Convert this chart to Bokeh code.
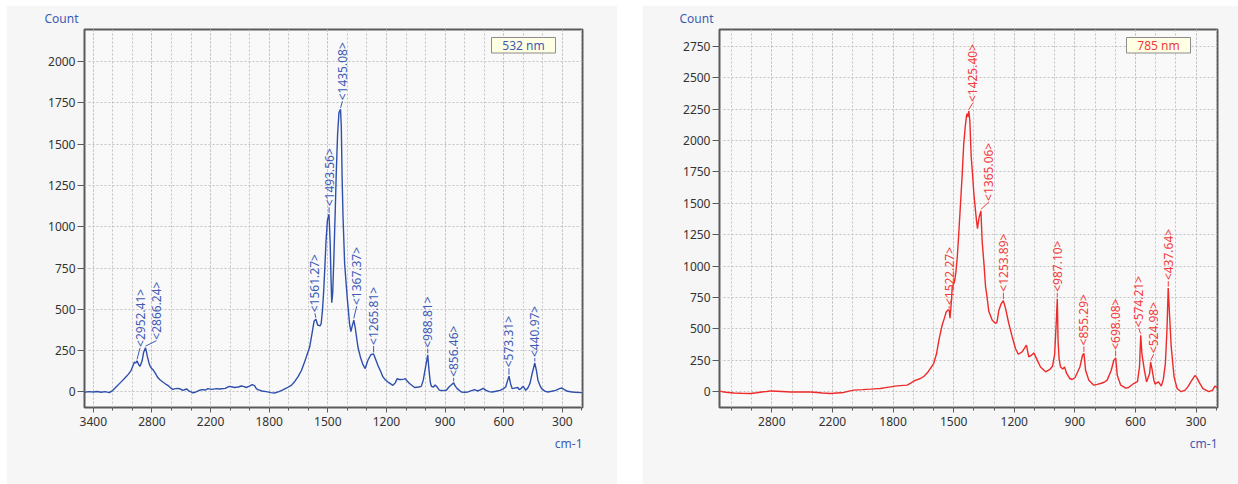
import numpy as np
from bokeh.plotting import figure
from bokeh.models import FixedTicker, Title, Spacer
from bokeh.layouts import row, column
from bokeh.embed import file_html
from bokeh.resources import INLINE
from bokeh.core.properties import value

# ---------------- data ----------------
AXIS_WN = [3400, 2800, 2200, 1800, 1500, 1200, 900, 600, 300]
AXIS_LABELS = ["3400", "2800", "2200", "1800", "1500", "1200", "900", "600", "300"]

LEFT_YTICKS = [0, 250, 500, 750, 1000, 1250, 1500, 1750, 2000]
RIGHT_YTICKS = [0, 250, 500, 750, 1000, 1250, 1500, 1750, 2000, 2250, 2500, 2750]

# 532 nm spectrum (Raman shift cm-1, counts)
L_WN = [3490, 3450, 3400, 3360, 3320, 3280, 3235, 3200, 3167, 3120, 3081, 3040, 3013, 2990,
        2979, 2966, 2952, 2935, 2921, 2900, 2885, 2866, 2855, 2846, 2830, 2818, 2800, 2784,
        2760, 2740, 2715, 2688, 2660, 2638, 2610, 2586, 2560, 2536, 2510, 2484, 2460, 2443,
        2420, 2400, 2380, 2350, 2314, 2280, 2250, 2228, 2190, 2160, 2140, 2100, 2072, 2050,
        2036, 2010, 1991, 1970, 1957, 1935, 1916, 1900, 1888, 1877, 1850, 1820, 1790, 1773,
        1750, 1730, 1710, 1687, 1670, 1653, 1635, 1619, 1605, 1593, 1581, 1570, 1561, 1552,
        1540, 1534, 1527, 1521, 1515, 1509, 1502, 1494, 1488, 1484, 1480, 1475, 1469, 1462,
        1457, 1450, 1443, 1435, 1431, 1427, 1422, 1414, 1401, 1389, 1382, 1375, 1367, 1360,
        1346, 1332, 1320, 1309, 1295, 1280, 1266, 1258, 1244, 1230, 1218, 1205, 1192, 1167,
        1155, 1145, 1135, 1125, 1110, 1104, 1093, 1082, 1056, 1035, 1022, 1012, 1000, 989,
        983, 976, 970, 960, 951, 940, 928, 910, 894, 880, 866, 856, 848, 838, 817, 800, 783,
        765, 749, 735, 720, 705, 690, 675, 659, 640, 619, 601, 590, 580, 573, 565, 557, 540,
        527, 521, 510, 500, 487, 476, 466, 455, 441, 433, 425, 415, 406, 390, 375, 355, 334,
        315, 303, 290, 273, 250, 232, 200]
L_CT = [-2, 2, 0, 3, -2, 2, -4, 10, 30, 58, 81, 108, 131, 165,
        181, 175, 188, 165, 155, 190, 240, 268, 240, 212, 175, 155, 140, 131,
        108, 87, 72, 60, 48, 40, 25, 16, 20, 22, 18, 10, 15, 18,
        5, 0, -6, 0, 10, 14, 12, 20, 16, 20, 18, 22, 34, 30,
        27, 30, 36, 32, 27, 35, 44, 38, 20, 14, 6, 2, -4, -6,
        2, 12, 24, 40, 62, 91, 130, 181, 230, 272, 353, 430, 440, 405,
        400, 414, 500, 615, 760, 917, 1040, 1075, 900, 700, 540, 600, 816, 1100,
        1320, 1560, 1690, 1710, 1600, 1300, 1050, 776, 574, 414, 365, 400, 435, 390,
        272, 205, 165, 141, 192, 225, 230, 205, 161, 125, 91, 72, 60, 40,
        55, 81, 75, 75, 78, 81, 65, 51, 27, 30, 34, 70, 150, 225,
        140, 60, 34, 30, 42, 28, 10, 8, 10, 30, 45, 55, 35, 20, 0, -2, 0,
        8, 14, 6, 12, 22, 10, 2, 0, 4, 10, 20, 30, 70, 95, 50, 20, 25,
        27, 14, 22, 34, 10, 25, 51, 110, 175, 130, 71, 40, 20, 5, 0, 4, 10,
        20, 24, 14, 4, 0, -2, -4]

# 785 nm spectrum
R_WN = [3318, 3290, 3250, 3176, 3100, 3010, 2950, 2900, 2850, 2812, 2750, 2700, 2614, 2520,
        2416, 2350, 2300, 2218, 2170, 2124, 2090, 2059, 2000, 1948, 1900, 1884, 1850, 1816,
        1790, 1764, 1730, 1710, 1697, 1680, 1664, 1647, 1630, 1615, 1599, 1585, 1573, 1565,
        1557, 1545, 1537, 1527, 1522, 1518, 1512, 1507, 1496, 1489, 1482, 1475, 1467, 1458,
        1450, 1442, 1436, 1432, 1429, 1425, 1420, 1413, 1406, 1400, 1393, 1387, 1382, 1375,
        1372, 1365, 1359, 1350, 1342, 1337, 1326, 1309, 1293, 1286, 1276, 1265, 1254, 1243,
        1227, 1210, 1194, 1180, 1161, 1150, 1140, 1128, 1115, 1103, 1086, 1070, 1045, 1024,
        1010, 1000, 992, 987, 983, 978, 971, 960, 951, 941, 925, 913, 899, 875, 862, 855,
        847, 831, 806, 790, 773, 755, 740, 720, 707, 698, 690, 673, 658, 649, 634, 609,
        590, 580, 574, 568, 556, 545, 530, 525, 518, 509, 503, 495, 486, 472, 462, 452,
        444, 438, 431, 423, 409, 394, 374, 354, 340, 326, 306, 295, 286, 266, 237, 218,
        207, 196]
R_CT = [4, 0, -4, -10, -12, -14, -8, -2, 2, 6, 4, 2, -2, -2,
        -2, -6, -10, -14, -10, -6, 4, 12, 16, 20, 24, 25, 32, 38,
        44, 48, 52, 70, 85, 96, 105, 123, 150, 185, 224, 300, 410, 470,
        529, 590, 635, 652, 650, 585, 700, 834, 874, 950, 1073, 1250, 1471, 1720,
        1976, 2120, 2201, 2215, 2190, 2235, 2160, 1869, 1720, 1578, 1460, 1365, 1299, 1380,
        1400, 1440, 1200, 1020, 834, 782, 640, 569, 545, 550, 649, 700, 725, 662,
        543, 436, 344, 298, 317, 345, 370, 277, 291, 309, 251, 197, 158, 177,
        205, 300, 560, 740, 400, 260, 197, 180, 197, 145, 105, 97, 113, 197, 290, 305,
        170, 92, 52, 58, 65, 75, 92, 171, 250, 270, 130, 52, 38, 28, 33, 65,
        80, 200, 450, 300, 171, 78, 145, 235, 180, 92, 60, 70, 78, 44, 100, 224,
        500, 825, 600, 357, 118, 25, 0, 12, 40, 78, 128, 110, 78, 25, 0, 12,
        44, 35]

# labelled peaks (shift, peak height)
L_PEAK_WN = [2952.41, 2866.24, 1561.27, 1493.56, 1435.08, 1367.37, 1265.81, 988.81, 856.46, 573.31, 440.97]
L_PEAK_CT = [188, 268, 440, 1075, 1710, 435, 230, 225, 55, 95, 175]
R_PEAK_WN = [1522.27, 1425.40, 1365.06, 1253.89, 987.10, 855.29, 698.08, 574.21, 524.98, 437.64]
R_PEAK_CT = [650, 2235, 1440, 725, 740, 305, 270, 450, 235, 825]

# ---------------- layout / style ----------------
L_NUDGE = [(3, 14), (11, 8), (-1, 7), (0, 8), (2, 9), (3, 15), (0, 9), (0, 7), (0, 6), (0, 9), (0, 6)]
R_NUDGE = [(0, 5), (4, 9), (8, 10), (0, 9), (0, 7), (0, 8), (0, 8), (-2, 8), (3, 9), (0, 8)]

FRAME_W, FRAME_H = 498, 378
TOP_GAP = 5
FONT = "Noto Sans"
BLUE = "#2f4fac"
BLUE_TXT = "#3d5bb5"
RED = "#ee2a2a"
RED_TXT = "#f23c3c"
AXIS_COL = "#5a5a5a"


def to_axis(wn):
    wn = np.asarray(wn, dtype=float)
    knots = np.array(AXIS_WN, dtype=float)
    idx = np.arange(len(knots), dtype=float)
    pos = np.interp(-wn, -knots, idx)
    pos = np.where(wn > knots[0], (knots[0] - wn) / (knots[0] - knots[1]), pos)
    pos = np.where(wn < knots[-1], idx[-1] + (knots[-1] - wn) / (knots[-2] - knots[-1]), pos)
    return pos


def make_panel(wn, ct, pk_wn, pk_ct, nudge, line_col, txt_col, laser, x_wn, y_rng, yticks,
               border_left, border_right):
    x0, x1 = [float(v) for v in to_axis(x_wn)]
    p = figure(frame_width=FRAME_W, frame_height=FRAME_H, x_range=(x0, x1), y_range=y_rng,
               output_backend="svg", toolbar_location=None,
               min_border_left=border_left, min_border_right=border_right,
               min_border_top=29 - TOP_GAP, min_border_bottom=77)
    p.background_fill_color = "#f9f9f9"
    p.border_fill_color = "#f6f6f6"
    p.outline_line_color = AXIS_COL
    p.outline_line_width = 2

    minors = [i / 3 for i in range(-3, 27)]
    p.xaxis.ticker = FixedTicker(ticks=list(range(len(AXIS_WN))), minor_ticks=minors)
    p.xaxis.major_label_overrides = {i: lab for i, lab in enumerate(AXIS_LABELS)}
    p.yaxis.ticker = FixedTicker(ticks=yticks, minor_ticks=[])

    for ax in (p.xaxis[0], p.yaxis[0]):
        ax.axis_line_color = None
        ax.major_tick_line_color = AXIS_COL
        ax.minor_tick_line_color = AXIS_COL
        ax.major_tick_in = 0
        ax.minor_tick_in = 0
        ax.major_label_text_font = FONT
        ax.major_label_text_font_size = "12px"
        ax.major_label_text_color = "#333333"
    p.xaxis.major_tick_out = 5
    p.xaxis.minor_tick_out = 3
    p.xaxis.major_label_standoff = 4
    p.yaxis.major_tick_out = 7
    p.yaxis.minor_tick_out = 0
    p.yaxis.major_label_standoff = 2

    for g in (p.xgrid[0], p.ygrid[0]):
        g.grid_line_color = "#c2c2c2"
        g.grid_line_dash = "2 2"
        g.grid_line_width = 1
    p.xgrid.minor_grid_line_color = "#c2c2c2"
    p.xgrid.minor_grid_line_dash = "2 2"

    # spectrum
    p.line(to_axis(wn), ct, line_color=line_col, line_width=1.4)

    # peak labels
    xpp = (x1 - x0) / FRAME_W
    ypp = (y_rng[1] - y_rng[0]) / FRAME_H
    px = to_axis(pk_wn)
    pv = np.array(pk_ct, dtype=float)
    dx = np.array([n[0] for n in nudge], dtype=float)
    gap = np.array([n[1] for n in nudge], dtype=float)
    lx = px + dx * xpp
    ly = pv + gap * ypp
    p.segment(x0=px, y0=pv + 1.5 * ypp, x1=lx, y1=ly - 1 * ypp, line_color=txt_col, line_width=1)
    p.text(x=lx, y=ly, text=["<%.2f>" % w for w in pk_wn], angle=np.pi / 2,
           text_align="left", text_baseline="middle", text_font=value(FONT),
           text_font_size="12px", text_color=txt_col)

    # laser box (top right of frame)
    bw, bh, mr, mt = 64, 15.5, 27, 8
    cx = x1 - (mr + bw / 2) * xpp
    cy = y_rng[1] - (mt + bh / 2) * ypp
    p.rect(x=[cx], y=[cy], width=bw, height=bh, width_units="screen", height_units="screen",
           fill_color="#ffffe3", line_color="#8c8c8c", line_width=1)
    p.text(x=[cx], y=[cy], text=[laser], text_align="center", text_baseline="middle",
           text_font=value(FONT), text_font_size="12px", text_color=txt_col)

    # axis captions as side-panel titles
    p.add_layout(Title(text="Count", align="left", offset=-40, standoff=4,
                       vertical_align="middle", text_font=FONT, text_font_size="12px",
                       text_font_style="normal", text_color=BLUE_TXT), "above")
    p.add_layout(Title(text="cm-1", align="right", offset=0, standoff=10,
                       vertical_align="middle", text_font=FONT, text_font_size="12px",
                       text_font_style="normal", text_color=BLUE_TXT), "below")
    return p


left = make_panel(L_WN, L_CT, L_PEAK_WN, L_PEAK_CT, L_NUDGE, BLUE, BLUE_TXT, "532 nm",
                  [3490, 197], (-94, 2193), LEFT_YTICKS, 78, 35)
right = make_panel(R_WN, R_CT, R_PEAK_WN, R_PEAK_CT, R_NUDGE, RED, RED_TXT, "785 nm",
                   [3318, 194], (-126, 2885), RIGHT_YTICKS, 77, 21)

layout = column(Spacer(height=TOP_GAP),
                row(Spacer(width=6), left, Spacer(width=25), right))

open("out.html", "w").write(file_html(layout, INLINE))
